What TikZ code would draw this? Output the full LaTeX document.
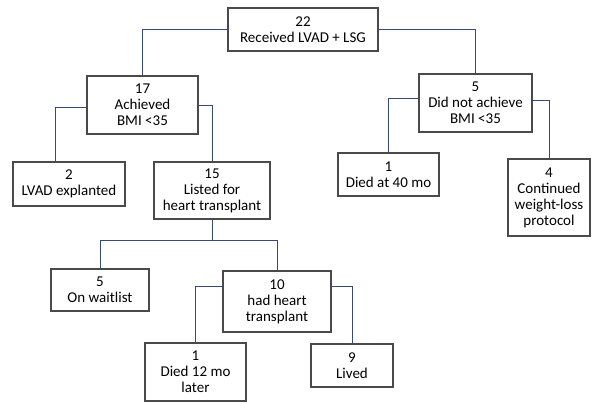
\documentclass[tikz,border=0pt]{standalone}
\usepackage{fontspec}
\setmainfont{Carlito}
\usepackage{tikz}
\usetikzlibrary{positioning}
\definecolor{linkblue}{HTML}{34497F}
\definecolor{boxgray}{HTML}{4A4A4A}

\begin{document}
\begin{tikzpicture}[x=1pt,y=-1pt,
		box/.style={draw=boxgray,line width=1.1pt,fill=white,align=center,inner sep=1pt,
			font=\fontsize{15}{16}\selectfont},
		link/.style={draw=linkblue,line width=0.9pt}]
		%%Frame
		\useasboundingbox (0,0) rectangle (592,403);
		%%Boxes
		\node[box,minimum width=150,minimum height=43] (n22) at (303,29.5) {22\\Received LVAD + LSG};
		\node[box,minimum width=111,minimum height=58] (n17) at (142.5,105) {17\\Achieved\\BMI <35};
		\node[box,minimum width=113,minimum height=58] (n5a) at (475.5,103) {5\\Did not achieve\\BMI <35};
		\node[box,minimum width=112,minimum height=44] (n2) at (69,184) {2\\LVAD explanted};
		\node[box,minimum width=116,minimum height=57] (n15) at (212,190.5) {15\\Listed for\\heart transplant};
		\node[box,minimum width=101,minimum height=43] (n40) at (388.5,174.5) {1\\Died at 40 mo};
		\node[box,minimum width=82,minimum height=77] (n4) at (549,197.5) {4\\Continued\\weight-loss\\protocol};
		\node[box,minimum width=98,minimum height=42] (nwait) at (100,290) {5\\On waitlist};
		\node[box,minimum width=108,minimum height=61] (n10) at (277,301.5) {10\\had heart\\transplant};
		\node[box,minimum width=101,minimum height=58] (n12) at (195.5,372) {1\\Died 12 mo\\later};
		\node[box,minimum width=82,minimum height=43] (n9) at (352,365.5) {9\\Lived};
		
		%%Links
		\draw[link] (n22.west) -| (n17.north);
		\draw[link] (n22.east) -| (n5a.north);
		\draw[link] ([yshift=-2pt]n17.west) -| ([xshift=-14pt]n2.north);
		\draw[link] (n17.east) -| (n15.north);
		\draw[link] (n15.south) -- ++(0,21) coordinate (split);
		\draw[link] (split) -| (nwait.north);
		\draw[link] (split) -| (n10.north);
		\draw[link] ([yshift=15pt]n10.west) -| (n12.north);
		\draw[link] ([yshift=15pt]n10.east) -| (n9.north);
		\draw[link] ([yshift=5pt]n5a.west) -| (n40.north);
		\draw[link] ([yshift=3pt]n5a.east) -| (n4.north);
\end{tikzpicture}
\end{document}
